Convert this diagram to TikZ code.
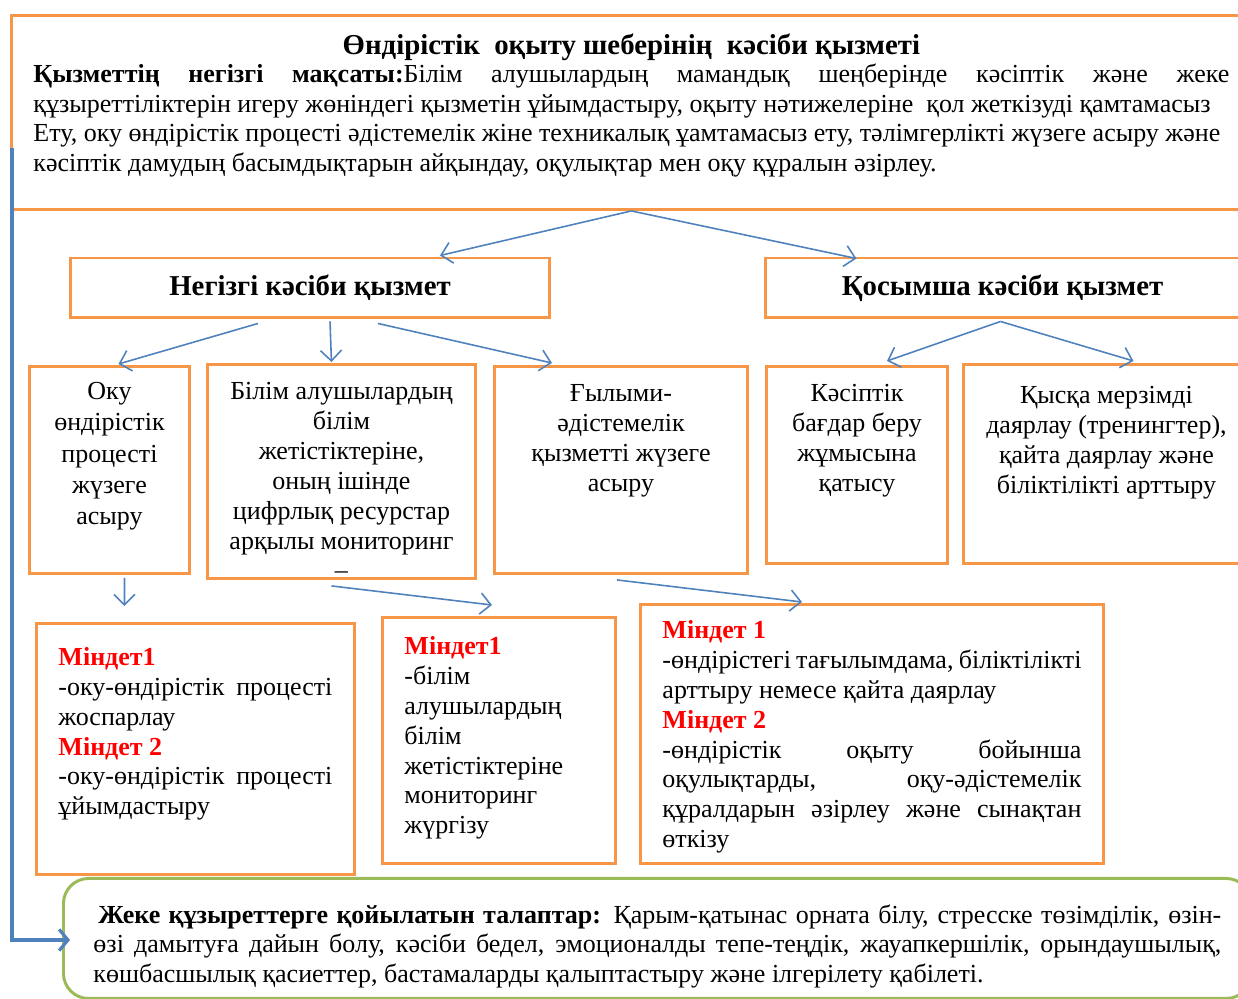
\documentclass[tikz,border=0pt]{standalone}
\usepackage{fontspec}
\setmainfont{Liberation Serif}
\usepackage{xcolor}
\usetikzlibrary{arrows.meta}
\usetikzlibrary{calc}
\usetikzlibrary{positioning}
\definecolor{orline}{RGB}{247,150,70}
\definecolor{blline}{RGB}{79,129,189}
\definecolor{grline}{RGB}{155,187,89}
\newcommand{\boxtext}[4]{\parbox[t][#1cm][t]{#2cm}{\vspace*{#3cm}#4}}
\newcommand{\jline}[1]{\makebox[\linewidth][s]{#1}}
\newcommand{\task}[1]{\textcolor{red}{\textbf{#1}}}
\newcommand{\headfont}{\fontsize{16.4}{19}\selectfont\bfseries}
\tikzset{
  obox/.style={draw=orline, line width=1.7pt, inner xsep=0.44cm, inner ysep=0pt, anchor=north west},
  hbox/.style={draw=orline, line width=1.7pt, minimum height=1.2cm, font=\headfont},
  gbox/.style={draw=grline, line width=1.7pt, rounded corners=0.5cm, inner xsep=0.6cm, inner ysep=0pt, anchor=north west},
  arr/.style={blline, line width=0.9pt, -{Straight Barb[length=6pt,width=12pt]}},
  sidearr/.style={blline, line width=1.8pt, -{Straight Barb[length=5pt,width=12pt]}}
}

\begin{document}
\begin{tikzpicture}[x=0.02cm, y=-0.02cm, font=\fontsize{14.8}{17}\selectfont]
            \useasboundingbox (0,0) rectangle (1238,999);
            \clip (0,0) rectangle (1238,999);
            \draw (10,14) node[obox] (top) {\boxtext{3.88}{23.92}{0.36}{\makebox[\linewidth]{\headfont Өндірістік\ \ оқыту шеберінің\ \ кәсіби қызметі}\\[-1pt]
              \jline{\textbf{Қызметтің негізгі мақсаты:}Білім алушылардың мамандық шеңберінде кәсіптік және жеке}\\
              \mbox{құзыреттіліктерін игеру жөніндегі қызметін ұйымдастыру, оқыту нәтижелеріне\ \ қол жеткізуді қамтамасыз}\\
              \mbox{Ету, оку өндірістік процесті әдістемелік жіне техникалық ұамтамасыз ету, тәлімгерлікті жүзеге асыру және}\\
              \mbox{кәсіптік дамудың басымдықтарын айқындау, оқулықтар мен оқу құралын әзірлеу.}}};
            \draw (310,288) node[hbox, minimum width=9.6cm] (neg) {Негізгі кәсіби қызмет};
            \draw (1002.5,288) node[hbox, minimum width=9.5cm] (kos) {Қосымша кәсіби қызмет};
            \draw (28,365) node[obox] (ou) {\boxtext{4.14}{2.32}{0.32}{\fontsize{14.8}{17.8}\selectfont\centering Оку\\ өндірістік\\ процесті\\ жүзеге\\ асыру}};
            \draw (206,363) node[obox] (bil) {\boxtext{4.28}{4.48}{0.36}{\centering Білім алушылардың\\ білім\\ жетістіктеріне,\\ оның ішінде\\ цифрлық ресурстар\\ арқылы мониторинг\\ –}};
            \draw (493,365) node[obox] (gyl) {\boxtext{4.14}{4.18}{0.36}{\centering Ғылыми-\\ әдістемелік\\ қызметті жүзеге\\ асыру}};
            \draw (765,365) node[obox] (kas) {\boxtext{3.94}{2.74}{0.36}{\centering Кәсіптік\\ бағдар беру\\ жұмысына\\ қатысу}};
            \draw (962,363) node[obox] (kys) {\boxtext{3.98}{4.84}{0.44}{\centering Қысқа мерзімді\\ даярлау (тренингтер),\\ қайта даярлау және\\ біліктілікті арттыру}};
            \draw (35,622) node[obox] (ma) {\boxtext{5.02}{5.48}{0.48}{\task{Міндет1}\\
              \jline{-оку-өндірістік процесті}\\ жоспарлау\\
              \task{Міндет 2}\\
              \jline{-оку-өндірістік процесті}\\ ұйымдастыру}};
            \draw (381,616) node[obox] (mb) {\boxtext{4.92}{3.78}{0.38}{\task{Міндет1}\\ -білім\\ алушылардың\\ білім\\ жетістіктеріне\\ мониторинг\\ жүргізу}};
            \draw (639,603) node[obox] (mc) {\boxtext{5.18}{8.38}{0.32}{\task{Міндет 1}\\
              \jline{-өндірістегі тағылымдама, біліктілікті}\\ арттыру немесе қайта даярлау\\
              \task{Міндет 2}\\
              \jline{-өндірістік оқыту бойынша}\\
              \jline{оқулықтарды, оқу-әдістемелік}\\
              \jline{құралдарын әзірлеу және сынақтан}\\ өткізу}};
            \draw (62,877) node[gbox] (grn) {\boxtext{2.4}{22.56}{0.52}{\jline{\hspace*{0.1cm}\textbf{Жеке құзыреттерге қойылатын талаптар:} Қарым-қатынас орната білу, стресске төзімділік, өзін-}\\
              \jline{өзі дамытуға дайын болу, кәсіби бедел, эмоционалды тепе-теңдік, жауапкершілік, орындаушылық,}\\
              \mbox{көшбасшылық қасиеттер, бастамаларды қалыптастыру және ілгерілету қабілеті.}}};
            \draw[arr] (top.south) -- ($(neg.north)+(130,-1)$);
            \draw[arr] (top.south) -- ($(kos.north)+(-146,2)$);
            \draw[arr] ($(neg.south)+(-52,4)$) -- ($(ou.north)+(9,-1)$);
            \draw[arr] ($(neg.south)+(20,2)$) -- ($(bil.north)+(-10,-1)$);
            \draw[arr] ($(neg.south)+(68,4)$) -- ($(gyl.north)+(-69,-2)$);
            \draw[arr] ($(kos.south)+(-2,2)$) -- ($(kas.north)+(30,-4)$);
            \draw[arr] ($(kos.south)+(-2,2)$) -- ($(kys.north)+(27,-2)$);
            \draw[arr] ($(ou.south)+(15,3)$) -- ($(ma.north)+(-71,-16)$);
            \draw[arr] ($(bil.south)+(-10,6)$) -- ($(mb.north)+(-7,-11)$);
            \draw[arr] ($(gyl.south)+(-4,5)$) -- ($(mc.north)+(-70,-1)$);
            \draw[sidearr] ($(top.south west)+(2,-63)$) |- ($(grn.north west)+(8,63)$);
\end{tikzpicture}
\end{document}
